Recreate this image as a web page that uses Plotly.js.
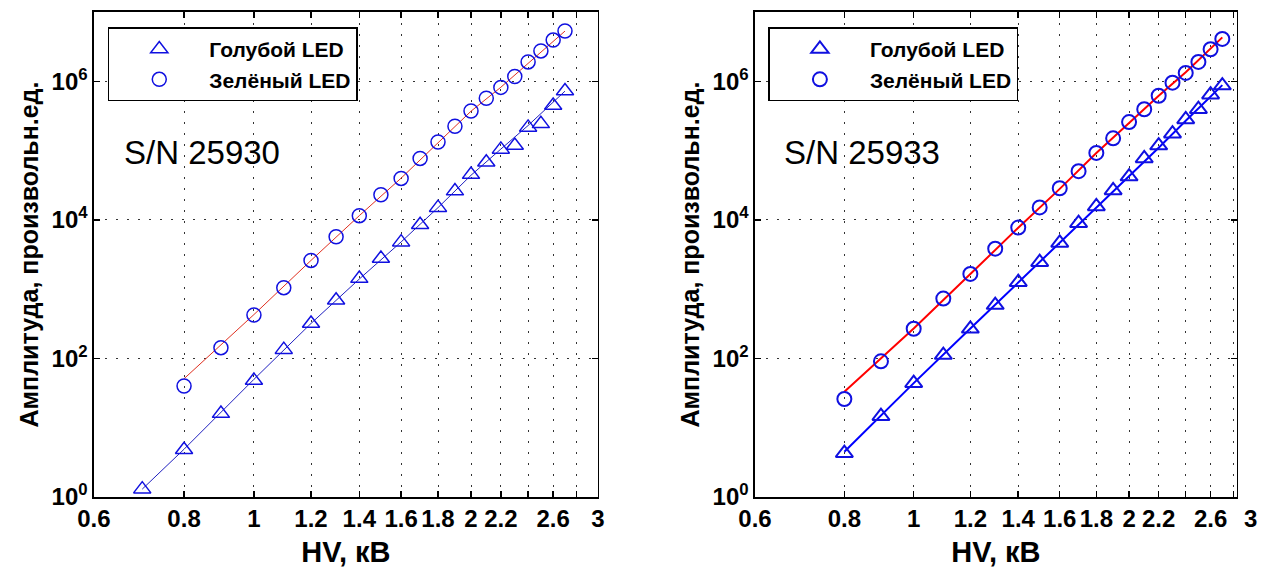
<!DOCTYPE html>
<html>
<head>
<meta charset="utf-8">
<script src="https://cdn.plot.ly/plotly-3.0.1.min.js"></script>
<style>html,body{margin:0;padding:0;background:#fff;}#chart{width:1268px;height:570px;}</style>
</head>
<body>
<div id="chart"></div>
<script>
// ---------- data ----------
const legendNames = ['Голубой LED', 'Зелёный LED'];
const serialLeft = 'S/N 25930';
const serialRight = 'S/N 25933';
const xTitle = 'HV, кВ';
const yTitle = 'Амплитуда, произвольн.ед.';

const xTickVals = [0.6, 0.8, 1, 1.2, 1.4, 1.6, 1.8, 2, 2.2, 2.4, 2.6, 2.8, 3];
const xTickText = ['0.6', '0.8', '1', '1.2', '1.4', '1.6', '1.8', '2', '2.2', '', '2.6', '', '3'];
const yTickVals = [1, 100, 1e4, 1e6];
const yTickText = ['10<sup>0</sup>', '10<sup>2</sup>', '10<sup>4</sup>', '10<sup>6</sup>'];

// S/N 25930 (left)
const hvBlue25930 = [0.7, 0.8, 0.9, 1.0, 1.1, 1.2, 1.3, 1.4, 1.5, 1.6, 1.7, 1.8, 1.9, 2.0, 2.1, 2.2, 2.3, 2.4, 2.5, 2.6, 2.7];
const ampBlue25930 = [1.3, 4.8, 16, 48, 134, 320, 690, 1420, 2770, 4770, 8500, 15000, 26000, 45000, 68000, 104000, 118000, 216000, 243000, 446000, 723000];
const hvGreen25930 = [0.8, 0.9, 1.0, 1.1, 1.2, 1.3, 1.4, 1.5, 1.6, 1.7, 1.8, 1.9, 2.0, 2.1, 2.2, 2.3, 2.4, 2.5, 2.6, 2.7];
const ampGreen25930 = [40, 143, 424, 1050, 2600, 5700, 11500, 23000, 39600, 77000, 133000, 224000, 372000, 568000, 816000, 1170000, 1900000, 2740000, 3930000, 5320000];
const fitHvBlue25930 = [0.7, 0.8, 1.0, 1.2, 1.4, 1.6, 1.8, 2.0, 2.2, 2.4, 2.7];
const fitAmpBlue25930 = [1.3, 4.9, 50, 320, 1400, 4800, 15000, 44000, 105000, 230000, 720000];
const fitHvGreen25930 = [0.8, 1.0, 1.2, 1.4, 1.6, 1.8, 2.0, 2.2, 2.4, 2.7];
const fitAmpGreen25930 = [51, 430, 2600, 11500, 40000, 130000, 370000, 820000, 1800000, 5300000];

// S/N 25933 (right)
const hvBlue25933 = [0.8, 0.9, 1.0, 1.1, 1.2, 1.3, 1.4, 1.5, 1.6, 1.7, 1.8, 1.9, 2.0, 2.1, 2.2, 2.3, 2.4, 2.5, 2.6, 2.7];
const ampBlue25933 = [4.3, 14.7, 44, 112, 268, 590, 1260, 2450, 4650, 8950, 15600, 26600, 42100, 77100, 118000, 175000, 281000, 395000, 641000, 867000];
const hvGreen25933 = [0.8, 0.9, 1.0, 1.1, 1.2, 1.3, 1.4, 1.5, 1.6, 1.7, 1.8, 1.9, 2.0, 2.1, 2.2, 2.3, 2.4, 2.5, 2.6, 2.7];
const ampGreen25933 = [26, 91, 268, 731, 1660, 3840, 7740, 15100, 28600, 50400, 92400, 150000, 258000, 395000, 618000, 955000, 1320000, 1900000, 2900000, 4080000];
const fitHvBlue25933 = [0.8, 1.0, 1.2, 1.4, 1.6, 1.8, 2.0, 2.2, 2.4, 2.7];
const fitAmpBlue25933 = [4.5, 44, 270, 1250, 4600, 15000, 42000, 110000, 270000, 880000];
const fitHvGreen25933 = [0.8, 1.0, 1.2, 1.4, 1.6, 1.8, 2.0, 2.2, 2.4, 2.7];
const fitAmpGreen25933 = [33, 270, 1650, 7700, 28000, 92000, 250000, 620000, 1350000, 4300000];

// ---------- styling ----------
const FONT = '"Liberation Sans", Arial, Helvetica, sans-serif';
const MARK = '#1010e0';
const markerTri = (w) => ({symbol: 'triangle-up-open', size: 15, color: MARK, line: {width: w, color: MARK}});
const markerCirc = (w) => ({symbol: 'circle-open', size: 14, color: MARK, line: {width: w, color: MARK}});

const traces = [
  {x: fitHvBlue25930, y: fitAmpBlue25930, xaxis: 'x', yaxis: 'y', mode: 'lines', line: {color: '#2020c0', width: 1}, showlegend: false, hoverinfo: 'skip'},
  {x: fitHvGreen25930, y: fitAmpGreen25930, xaxis: 'x', yaxis: 'y', mode: 'lines', line: {color: '#e03020', width: 1}, showlegend: false, hoverinfo: 'skip'},
  {x: hvBlue25930, y: ampBlue25930, xaxis: 'x', yaxis: 'y', mode: 'markers', name: legendNames[0], marker: markerTri(1.5), legend: 'legend'},
  {x: hvGreen25930, y: ampGreen25930, xaxis: 'x', yaxis: 'y', mode: 'markers', name: legendNames[1], marker: markerCirc(1.5), legend: 'legend'},
  {x: fitHvBlue25933, y: fitAmpBlue25933, xaxis: 'x2', yaxis: 'y2', mode: 'lines', line: {color: '#0000ff', width: 2}, showlegend: false, hoverinfo: 'skip'},
  {x: fitHvGreen25933, y: fitAmpGreen25933, xaxis: 'x2', yaxis: 'y2', mode: 'lines', line: {color: '#ff0000', width: 2}, showlegend: false, hoverinfo: 'skip'},
  {x: hvBlue25933, y: ampBlue25933, xaxis: 'x2', yaxis: 'y2', mode: 'markers', name: legendNames[0], marker: markerTri(2), legend: 'legend2'},
  {x: hvGreen25933, y: ampGreen25933, xaxis: 'x2', yaxis: 'y2', mode: 'markers', name: legendNames[1], marker: markerCirc(2), legend: 'legend2'}
];

function xAxis(domain, range, anchor) {
  return {
    domain: domain, anchor: anchor, type: 'log', range: range,
    tickmode: 'array', tickvals: xTickVals, ticktext: xTickText, tickangle: 0,
    ticks: 'inside', ticklen: 6, tickwidth: 1.5, tickcolor: '#000',
    showline: true, linecolor: '#000', linewidth: 1.5, mirror: 'ticks',
    showgrid: true, gridcolor: '#333', gridwidth: 1, griddash: '2px,9px',
    zeroline: false, automargin: false,
    tickfont: {family: FONT, size: 24, color: '#000', weight: 'bold'},
    title: {text: xTitle, font: {family: FONT, size: 29, color: '#000', weight: 'bold'}, standoff: 10}
  };
}
function yAxis(domain, anchor) {
  return {
    domain: domain, anchor: anchor, type: 'log', range: [0, 7],
    tickmode: 'array', tickvals: yTickVals, ticktext: yTickText,
    ticks: 'inside', ticklen: 6, tickwidth: 1.5, tickcolor: '#000',
    showline: true, linecolor: '#000', linewidth: 1.5, mirror: 'ticks',
    showgrid: true, gridcolor: '#333', gridwidth: 1, griddash: '2px,9px',
    zeroline: false, automargin: false,
    tickfont: {family: FONT, size: 24, color: '#000', weight: 'bold'},
    title: {text: yTitle, font: {family: FONT, size: 25, color: '#000', weight: 'bold'}, standoff: 6}
  };
}
const legendStyle = (x) => ({
  x: x, y: 0.952, xanchor: 'left', yanchor: 'top',
  bgcolor: '#fff', bordercolor: '#000', borderwidth: 1.5,
  font: {family: FONT, size: 21, color: '#000', weight: 'bold'},
  itemwidth: 90, tracegroupgap: 0
});

const layout = {
  width: 1268, height: 570,
  margin: {l: 0, r: 0, t: 0, b: 0},
  paper_bgcolor: '#fff', plot_bgcolor: '#fff',
  showlegend: true,
  xaxis: xAxis([0.0741, 0.4716], [Math.log10(0.6), Math.log10(3)], 'y'),
  yaxis: yAxis([0.128, 0.979], 'x'),
  xaxis2: xAxis([0.5954, 0.9755], [Math.log10(0.6), Math.log10(2.83)], 'y2'),
  yaxis2: yAxis([0.128, 0.979], 'x2'),
  legend: legendStyle(0.085),
  legend2: legendStyle(0.606),
  annotations: [
    {text: serialLeft, xref: 'paper', yref: 'paper', x: 0.0962, y: 0.7333, xanchor: 'left', yanchor: 'middle', showarrow: false, font: {family: FONT, size: 33, color: '#000'}},
    {text: serialRight, xref: 'paper', yref: 'paper', x: 0.6167, y: 0.7333, xanchor: 'left', yanchor: 'middle', showarrow: false, font: {family: FONT, size: 33, color: '#000'}},
    {text: '3', xref: 'paper', yref: 'paper', x: 1250 / 1268, y: (570 - 518) / 570, xanchor: 'center', yanchor: 'middle', showarrow: false, font: {family: FONT, size: 24, color: '#000', weight: 'bold'}}
  ]
};

Plotly.newPlot('chart', traces, layout, {staticPlot: true, displayModeBar: false});
</script>
</body>
</html>
